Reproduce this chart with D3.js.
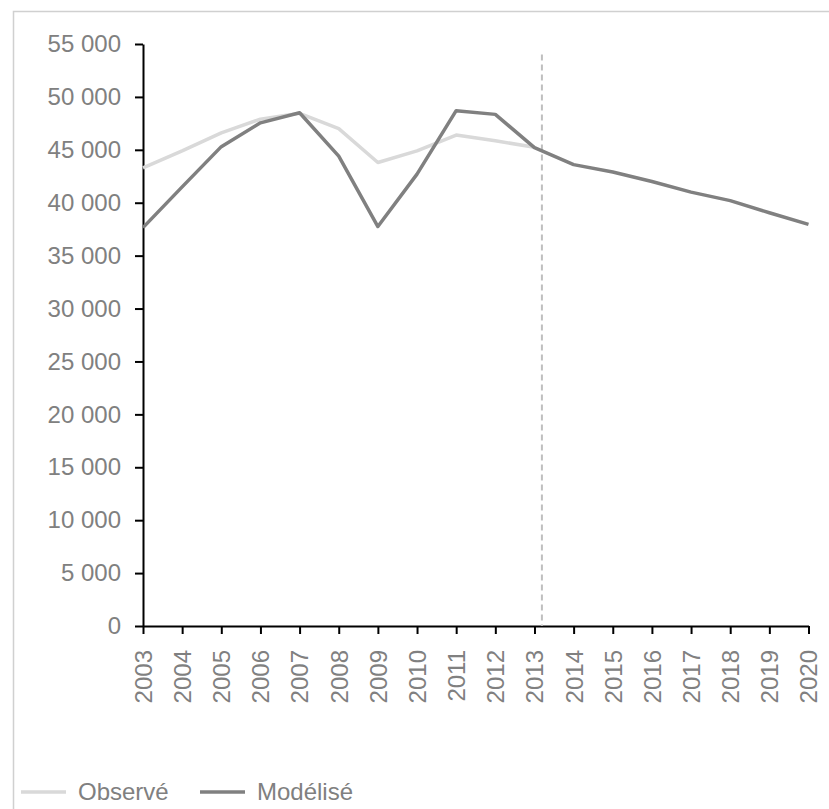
<!DOCTYPE html>
<html>
<head>
<meta charset="utf-8">
<script src="https://cdn.jsdelivr.net/npm/d3@7"></script>
<style>
  body { margin: 0; background: #fff; }
  svg { display: block; font-family: Arial, "Liberation Sans", sans-serif; }
</style>
</head>
<body>
<div class="canvas"></div>
<script>
const years = [2003, 2004, 2005, 2006, 2007, 2008, 2009, 2010, 2011, 2012, 2013, 2014, 2015, 2016, 2017, 2018, 2019, 2020];
const observedYears = [2003, 2004, 2005, 2006, 2007, 2008, 2009, 2010, 2011, 2012, 2013];
const observed = [43300, 44900, 46600, 47900, 48450, 47000, 43800, 44900, 46400, 45850, 45250];
const modeled = [37650, 41500, 45300, 47550, 48500, 44400, 37750, 42700, 48700, 48350, 45200, 43600, 42900, 42000, 41000, 40200, 39050, 37950];
const yTicks = [0, 5000, 10000, 15000, 20000, 25000, 30000, 35000, 40000, 45000, 50000, 55000];
const forecastStart = 2013.19;
const legendLabels = ['Observé', 'Modélisé'];

const width = 829, height = 809;
const grey = '#808080';

const svg = d3.select('.canvas')
  .append('svg')
  .attr('width', width)
  .attr('height', height)

// frame
svg.append('rect')
  .attr('x', 13.5)
  .attr('y', 11.5)
  .attr('width', width)
  .attr('height', height)
  .attr('fill', 'none')
  .attr('stroke', '#d0d0d0')
  .attr('stroke-width', 1.5)

const x = d3.scaleLinear().domain([2003, 2020]).range([143, 808.5]);
const y = d3.scaleLinear().domain([0, 55000]).range([626, 44]);

const fr = d3.formatLocale({ decimal: ',', thousands: ' ', grouping: [3], currency: ['', ' €'] });
const fmt = fr.format(',d');

// y axis
const yAxis = svg.append('g')
  .attr('transform', `translate(${x(2003)},0)`)
  .call(d3.axisLeft(y).tickValues(yTicks).tickFormat(fmt).tickSize(8).tickPadding(14).tickSizeOuter(0))
yAxis.select('.domain').attr('stroke', '#000').attr('stroke-width', 2)
yAxis.selectAll('.tick line').attr('stroke', '#000').attr('stroke-width', 2)
yAxis.selectAll('.tick text')
  .attr('fill', grey)
  .attr('font-size', 24)
  .attr('font-family', 'Arial, "Liberation Sans", sans-serif')

// x axis
const xAxis = svg.append('g')
  .attr('transform', `translate(0,${y(0)})`)
  .call(d3.axisBottom(x).tickValues(years).tickFormat(d3.format('d')).tickSize(8).tickSizeOuter(0))
xAxis.select('.domain').attr('stroke', '#000').attr('stroke-width', 2)
xAxis.selectAll('.tick line').attr('stroke', '#000').attr('stroke-width', 2)
xAxis.selectAll('.tick text')
  .attr('fill', grey)
  .attr('font-size', 24)
  .attr('font-family', 'Arial, "Liberation Sans", sans-serif')
  .attr('text-anchor', 'end')
  .attr('transform', 'translate(0,24) rotate(-90)')
  .attr('x', 0)
  .attr('y', 0)
  .attr('dy', '0.35em')

// forecast separator
svg.append('line')
  .attr('x1', x(forecastStart))
  .attr('x2', x(forecastStart))
  .attr('y1', y(54000))
  .attr('y2', y(0))
  .attr('stroke', '#bfbfbf')
  .attr('stroke-width', 2)
  .attr('stroke-dasharray', '6,4')

const line = d3.line()
  .x(d => x(d[0]))
  .y(d => y(d[1]))

svg.append('path')
  .datum(observedYears.map((yr, i) => [yr, observed[i]]))
  .attr('d', line)
  .attr('fill', 'none')
  .attr('stroke', '#d9d9d9')
  .attr('stroke-width', 3.5)
  .attr('stroke-linejoin', 'round')

svg.append('path')
  .datum(years.map((yr, i) => [yr, modeled[i]]))
  .attr('d', line)
  .attr('fill', 'none')
  .attr('stroke', grey)
  .attr('stroke-width', 3.5)
  .attr('stroke-linejoin', 'round')

// legend
const legendColors = ['#d9d9d9', grey];
const legendX = [21, 200];
const legend = svg.selectAll('.legend')
  .data(legendLabels)
  .enter()
  .append('g')
  .attr('class', 'legend')
  .attr('transform', (d, i) => `translate(${legendX[i]},792)`)

legend.append('line')
  .attr('x1', 0)
  .attr('x2', 45)
  .attr('y1', 0)
  .attr('y2', 0)
  .attr('stroke', (d, i) => legendColors[i])
  .attr('stroke-width', 3.5)

legend.append('text')
  .attr('x', 57)
  .attr('y', 0)
  .attr('dy', '0.35em')
  .attr('fill', grey)
  .attr('font-size', 24)
  .text(d => d)
</script>
</body>
</html>
